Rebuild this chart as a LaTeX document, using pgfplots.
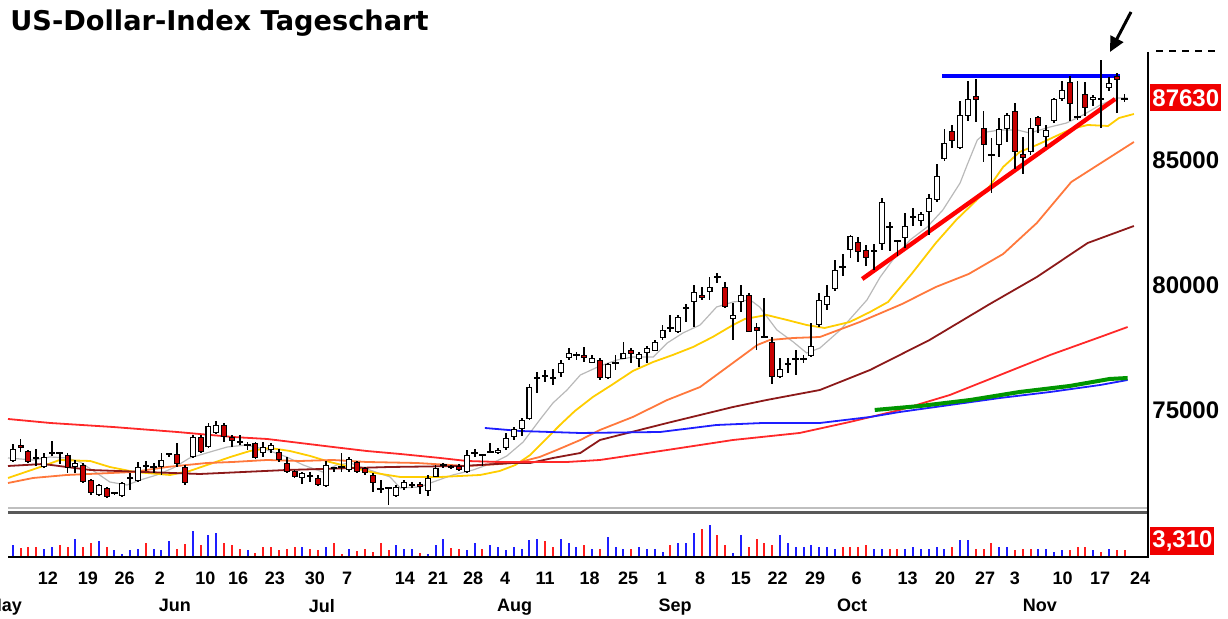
\documentclass[border=0pt]{standalone}
\usepackage{fontspec}
\setmainfont{Liberation Sans}
\newfontfamily\titlefont{DejaVu Sans}
\usepackage{pgfplots}
\pgfplotsset{compat=1.18}
\usepackage{pgfplotstable}
\usetikzlibrary{arrows.meta}

\definecolor{candlered}{RGB}{200,0,0}
\definecolor{magray}{RGB}{185,185,185}
\definecolor{mayellow}{RGB}{255,205,0}
\definecolor{maorange}{RGB}{255,120,60}
\definecolor{mamaroon}{RGB}{140,25,25}
\definecolor{mared}{RGB}{255,40,40}
\definecolor{mablue}{RGB}{30,30,255}
\definecolor{magreen}{RGB}{0,150,0}
\definecolor{volred}{RGB}{255,30,30}
\definecolor{volblue}{RGB}{30,30,255}
\definecolor{boxred}{RGB}{240,0,0}

% daily candles, index points (87.63 = 87630)
\pgfplotstableread{
i O H L C
0 72.96 73.64 72.92 73.44
1 73.60 73.84 73.32 73.48
2 73.36 73.40 72.88 72.92
3 73.08 73.44 72.76 73.08
4 72.72 73.28 72.68 73.12
5 73.28 73.76 73.16 73.28
6 73.28 73.32 72.84 73.28
7 73.20 73.28 72.48 72.68
8 72.72 73.00 72.48 72.88
9 72.80 72.88 72.08 72.12
10 72.20 72.24 71.60 71.68
11 71.60 72.04 71.56 72.00
12 71.88 71.92 71.48 71.52
13 71.68 71.72 71.60 71.68
14 71.56 72.12 71.52 72.08
15 72.28 72.48 71.80 72.28
16 72.16 72.92 72.12 72.72
17 72.76 72.96 72.56 72.76
18 72.72 72.88 72.48 72.72
19 72.72 73.28 72.40 73.00
20 73.24 73.28 73.12 73.24
21 73.24 73.68 72.72 72.84
22 72.72 72.80 72.00 72.08
23 73.12 74.00 73.08 73.92
24 73.92 74.00 73.28 73.32
25 73.52 74.48 73.48 74.36
26 74.08 74.56 74.04 74.40
27 74.40 74.48 73.72 73.92
28 73.92 74.00 73.52 73.76
29 73.72 74.00 73.60 73.72
30 73.60 73.72 73.40 73.60
31 73.68 73.72 73.04 73.08
32 73.28 73.72 73.12 73.52
33 73.40 73.68 73.28 73.60
34 73.32 73.44 72.92 73.00
35 72.88 73.12 72.48 72.52
36 72.56 72.60 72.28 72.32
37 72.28 72.52 72.04 72.48
38 72.36 72.52 72.12 72.36
39 72.28 72.40 71.96 72.00
40 71.96 72.96 71.92 72.80
41 72.68 72.72 72.52 72.68
42 72.72 73.28 72.52 72.72
43 72.60 73.12 72.52 73.04
44 72.92 72.96 72.48 72.52
45 72.68 72.72 72.40 72.48
46 72.40 72.48 71.72 72.08
47 71.84 72.20 71.68 71.84
48 71.88 71.88 71.20 71.88
49 71.56 72.00 71.52 71.92
50 71.88 72.20 71.80 72.12
51 72.00 72.12 71.88 72.00
52 72.04 72.12 71.64 71.92
53 71.76 72.40 71.56 72.28
54 72.32 72.80 72.32 72.68
55 72.80 72.88 72.68 72.80
56 72.68 72.80 72.64 72.76
57 72.76 72.84 72.56 72.60
58 72.52 73.40 72.48 73.20
59 73.28 73.44 73.12 73.28
60 73.20 73.20 72.76 73.20
61 73.32 73.68 73.28 73.32
62 73.28 73.48 73.24 73.40
63 73.48 74.08 73.40 73.88
64 73.92 74.32 73.80 74.24
65 74.24 74.68 73.96 74.60
66 74.64 76.04 74.60 75.92
67 76.28 76.52 75.68 76.28
68 76.36 76.60 76.12 76.36
69 76.28 76.64 76.00 76.28
70 76.48 77.00 76.32 76.88
71 77.08 77.48 77.00 77.28
72 77.20 77.32 77.00 77.20
73 77.20 77.52 76.92 77.08
74 76.88 77.20 76.88 77.08
75 77.00 77.08 76.20 76.28
76 76.28 76.88 76.24 76.84
77 76.88 77.20 76.60 76.88
78 77.04 77.72 77.04 77.28
79 77.40 77.48 76.88 77.24
80 77.04 77.32 76.72 77.24
81 77.28 77.56 76.88 77.48
82 77.36 77.80 77.36 77.72
83 77.88 78.40 77.80 78.20
84 78.28 78.80 78.12 78.28
85 78.12 78.80 78.08 78.72
86 79.08 79.24 78.52 79.08
87 79.32 80.00 78.32 79.72
88 79.60 79.92 79.40 79.48
89 79.72 80.32 79.40 79.92
90 80.32 80.48 80.08 80.32
91 79.92 80.12 79.08 79.12
92 78.64 79.28 77.80 78.80
93 79.32 80.00 78.92 79.60
94 79.60 79.68 78.12 78.12
95 78.32 78.48 77.40 78.16
96 77.92 79.48 77.88 77.92
97 77.72 77.92 76.04 76.32
98 76.32 77.08 76.28 76.64
99 76.84 77.08 76.48 76.84
100 77.04 77.40 76.40 77.04
101 77.04 77.20 76.88 77.04
102 77.16 78.48 77.12 77.56
103 78.40 79.68 78.32 79.40
104 79.20 80.00 79.00 79.56
105 79.84 81.00 79.76 80.60
106 80.72 81.24 80.36 80.72
107 81.40 82.00 81.08 81.96
108 81.72 81.92 80.92 81.32
109 81.40 81.60 80.76 81.08
110 81.36 81.64 80.60 81.36
111 81.64 83.48 81.40 83.32
112 82.32 82.52 81.36 82.32
113 81.76 81.80 81.16 81.76
114 81.88 82.88 81.48 82.36
115 82.72 83.08 82.36 82.72
116 82.56 82.92 82.36 82.84
117 82.92 83.64 82.00 83.48
118 83.40 84.84 83.32 84.36
119 85.04 86.24 84.96 85.68
120 86.16 86.40 85.48 85.76
121 85.48 87.36 85.44 86.80
122 86.76 88.16 86.56 87.44
123 87.56 88.24 86.52 87.40
124 86.28 86.96 84.92 85.60
125 85.20 85.88 83.68 85.20
126 85.60 86.68 85.12 86.24
127 86.24 86.88 85.72 86.80
128 86.96 87.28 84.64 85.32
129 85.24 85.92 84.44 85.08
130 85.32 86.68 85.20 86.28
131 86.72 86.76 86.08 86.36
132 85.92 86.40 85.52 86.20
133 86.56 87.48 86.48 87.44
134 87.44 88.16 87.36 87.80
135 88.12 88.36 86.56 87.24
136 86.72 88.16 86.60 86.72
137 87.64 88.12 86.76 87.08
138 87.40 87.60 87.16 87.52
139 87.44 89.00 86.28 87.44
140 87.88 88.32 87.76 88.08
141 88.36 88.48 86.88 88.20
142 87.44 87.64 87.32 87.44
}\candles

\pgfplotstableread{
i v
0 11.7
4 8.3
5 10.0
8 17.7
11 16.0
13 6.7
14 3.3
15 6.7
16 8.3
18 8.3
19 6.7
20 16.0
23 26.0
25 22.3
26 24.3
30 6.7
37 10.0
40 10.0
43 7.7
49 12.3
50 8.3
51 8.3
53 3.3
54 12.3
55 18.3
58 6.7
59 14.3
61 12.3
62 10.0
63 6.7
64 10.0
65 8.3
66 16.7
67 18.3
70 18.3
71 14.3
72 10.0
74 8.3
76 20.0
77 10.0
78 8.3
80 10.0
81 8.3
82 8.3
83 5.0
85 14.3
86 14.3
87 24.3
89 31.7
92 4.3
93 22.3
98 22.3
99 14.3
100 10.0
101 10.0
102 12.3
103 10.0
104 10.0
105 8.3
110 8.3
111 8.3
114 8.3
115 10.0
116 8.3
117 8.3
118 10.0
119 8.3
121 16.7
122 16.7
126 10.0
127 10.0
131 8.3
132 8.3
133 5.0
134 6.7
138 6.7
140 8.3
}\volblue

\pgfplotstableread{
i v
1 9.0
2 10.0
3 10.0
6 12.3
7 10.0
9 10.0
10 14.3
12 10.0
17 14.3
21 8.3
22 12.7
24 11.7
27 14.3
28 12.3
29 8.3
31 4.3
32 10.0
33 10.0
34 6.7
35 8.3
36 10.0
38 8.3
39 6.7
41 14.3
42 3.3
44 6.0
45 8.3
46 5.0
47 14.3
48 6.7
52 4.3
56 9.0
57 8.3
60 8.3
68 16.0
69 10.0
73 12.3
75 8.3
79 8.3
84 12.3
88 27.7
90 22.3
91 12.3
94 10.0
95 17.7
96 14.3
97 12.3
106 10.0
107 10.0
108 10.0
109 12.3
112 8.3
113 8.3
120 10.0
123 8.3
124 8.3
125 14.3
128 6.7
129 8.3
130 8.3
135 6.7
136 10.0
137 10.0
139 5.0
141 6.7
142 6.7
}\volred

\begin{document}
\begin{tikzpicture}
\path[use as bounding box] (0,0) rectangle (614pt,309.5pt);

% ---- price panel
\begin{axis}[
  at={(4pt,53.5pt)}, anchor=south west,
  scale only axis, width=570pt, height=231pt,
  xmin=-0.6, xmax=145, ymin=70.92, ymax=89.4,
  axis line style={draw=none},
  xtick=\empty,
  ytick={75,80,85}, yticklabels={75000,80000,85000},
  ytick pos=right, yticklabel pos=right,
  major tick length=0pt,
  yticklabel style={font=\bfseries\fontsize{12}{12}\selectfont, anchor=west, inner sep=0pt, xshift=2pt},
]
% moving averages
\addplot[magray, line width=0.6pt] coordinates {
(-0.6,73.08)(2.6,73.00)(4.8,73.12)(6.9,73.08)(8.6,72.92)(11.1,72.40)(12.4,72.12)
(14.6,72.00)(16.3,72.20)(18.4,72.40)(20.5,72.68)(22.6,73.08)(25.2,73.32)(27.4,73.52)
(29.9,73.60)(32.5,73.40)(35.0,73.12)(37.1,72.80)(39.6,72.52)(41.4,72.80)(43.1,72.88)
(45.6,72.60)(48.2,72.32)(49.5,71.88)(52.0,71.92)(53.7,72.12)(56.2,72.40)(58.8,72.60)
(61.3,72.88)(63.1,73.16)(65.2,73.72)(67.3,74.60)(69.0,75.28)(70.8,75.80)(72.5,76.40)
(75.0,76.76)(77.2,77.00)(79.2,77.12)(81.8,77.12)(83.6,77.68)(85.6,78.08)(87.8,78.40)
(89.9,79.12)(92.0,79.32)(94.2,79.40)(95.4,79.12)(97.6,78.20)(99.7,77.72)(101.4,77.28)
(103.1,77.48)(105.7,78.20)(109.1,79.40)(110.8,80.32)(112.4,81.00)(114.6,81.80)
(116.8,82.32)(118.8,83.00)(121.0,84.08)(121.9,84.80)(123.2,85.80)(124.4,86.12)
(126.1,86.20)(128.3,86.20)(129.9,86.08)(132.5,86.32)(134.6,86.48)(136.7,86.80)
(138.9,87.20)(141.0,87.48)(142.4,87.48)};
\addplot[mayellow, line width=0.9pt] coordinates {
(-0.6,72.28)(3.9,72.76)(6.0,73.00)(9.9,72.96)(12.4,72.72)(15.6,72.52)(20.1,72.40)
(22.6,72.56)(25.2,72.84)(27.8,73.12)(30.3,73.36)(32.9,73.48)(35.4,73.36)(38.0,73.16)
(40.5,72.92)(43.1,72.72)(46.3,72.48)(49.5,72.32)(54.6,72.32)(59.7,72.40)(62.2,72.56)
(64.2,72.80)(66.1,73.20)(68.0,73.80)(69.9,74.40)(71.8,74.96)(74.1,75.52)(76.7,76.04)
(79.2,76.56)(81.8,76.92)(84.3,77.20)(86.9,77.52)(89.4,77.92)(92.0,78.40)(93.5,78.64)
(96.3,78.80)(98.9,78.60)(101.4,78.40)(103.7,78.28)(106.9,78.52)(109.5,78.92)
(111.8,79.32)(114.8,80.44)(117.9,81.68)(120.5,82.60)(123.0,83.36)(124.8,83.96)
(126.5,84.72)(128.6,85.32)(130.8,85.60)(133.0,85.92)(135.2,86.24)(137.3,86.40)
(139.9,86.36)(141.3,86.68)(143.2,86.84)};
\addplot[maorange, line width=0.9pt] coordinates {
(-0.6,72.08)(2.6,72.28)(6.9,72.40)(15.4,72.52)(19.7,72.72)(24.8,72.88)(28.1,72.92)
(32.5,73.00)(36.7,72.96)(40.9,73.00)(45.2,72.92)(51.6,72.88)(58.0,72.76)(62.2,72.84)
(64.8,72.92)(67.3,73.12)(69.5,73.40)(72.5,73.80)(75.0,74.20)(79.2,74.72)(83.6,75.40)
(87.8,75.92)(92.5,77.00)(95.1,77.60)(96.7,77.80)(99.7,77.88)(103.1,77.92)(108.2,78.52)
(113.6,79.24)(117.9,79.92)(122.1,80.44)(126.5,81.24)(130.8,82.48)(135.2,84.12)
(138.6,84.80)(143.2,85.72)};
\addplot[mamaroon, line width=0.9pt] coordinates {
(-0.6,72.76)(3.9,72.84)(9.9,72.60)(23.9,72.44)(35.0,72.60)(48.2,72.72)(57.5,72.76)
(63.9,72.88)(66.1,72.88)(69.0,73.08)(72.5,73.28)(75.0,73.80)(83.6,74.48)(92.0,75.12)
(96.3,75.40)(103.1,75.80)(109.5,76.60)(117.1,77.80)(124.8,79.24)(130.8,80.32)
(137.3,81.68)(143.2,82.36)};
\addplot[mared, line width=0.9pt] coordinates {
(-0.6,74.64)(4.8,74.48)(12.8,74.32)(21.0,74.12)(28.1,73.92)(32.5,73.84)(36.7,73.68)
(40.9,73.52)(45.2,73.36)(49.5,73.24)(54.6,73.08)(58.0,72.96)(62.2,72.92)(70.8,72.92)
(75.0,73.00)(83.6,73.40)(92.0,73.80)(100.5,74.08)(106.9,74.52)(113.3,75.00)
(119.7,75.60)(126.1,76.40)(132.5,77.20)(138.9,77.92)(142.4,78.32)};
\addplot[mablue, line width=0.9pt] coordinates {
(60.3,74.28)(64.8,74.16)(72.5,74.08)(82.7,74.12)(89.9,74.40)(95.8,74.48)(103.1,74.48)
(109.5,74.72)(113.3,74.92)(119.7,75.20)(126.1,75.48)(132.5,75.72)(138.9,76.00)(142.4,76.20)};
\addplot[magreen, line width=2pt] coordinates {
(110.1,75.00)(115.9,75.16)(122.3,75.40)(128.6,75.72)(135.0,75.96)(140.1,76.24)(142.4,76.28)};
% trend lines
\addplot[red, line width=2.2pt] coordinates {(108.5,80.24)(140.8,87.44)};
\addplot[blue, line width=2.2pt] coordinates {(118.7,88.36)(141.4,88.36)};
% wicks
\addplot[draw=none, mark=none, error bars/.cd, y dir=both, y explicit, error mark=none,
  error bar style={draw=black, line width=0.9pt}]
  table[x=i, y=C, y error plus expr=\thisrow{H}-\thisrow{C}, y error minus expr=\thisrow{C}-\thisrow{L}] {\candles};
% body outlines
\addplot[draw=none, mark=none, restrict expr to domain={abs(\thisrow{C}-\thisrow{O})}{0.01:100},
  error bars/.cd, y dir=plus, y explicit, error mark=none, error bar style={draw=black, line width=3pt}]
  table[x=i, y expr={min(\thisrow{O},\thisrow{C})}, y error plus expr={abs(\thisrow{C}-\thisrow{O})}] {\candles};
% rising bodies
\addplot[draw=none, mark=none, restrict expr to domain={\thisrow{C}-\thisrow{O}}{0.081:100},
  error bars/.cd, y dir=plus, y explicit, error mark=none, error bar style={draw=white, line width=1.9pt}]
  table[x=i, y expr={\thisrow{O}+0.04}, y error plus expr={\thisrow{C}-\thisrow{O}-0.08}] {\candles};
% falling bodies
\addplot[draw=none, mark=none, restrict expr to domain={\thisrow{O}-\thisrow{C}}{0.081:100},
  error bars/.cd, y dir=plus, y explicit, error mark=none, error bar style={draw=candlered, line width=1.9pt}]
  table[x=i, y expr={\thisrow{C}+0.04}, y error plus expr={\thisrow{O}-\thisrow{C}-0.08}] {\candles};
% doji
\addplot[only marks, mark=-, mark size=1.6pt, mark options={draw=black, line width=0.9pt},
  restrict expr to domain={abs(\thisrow{C}-\thisrow{O})}{0:0.005}]
  table[x=i, y=C] {\candles};
\end{axis}

% ---- volume panel
\begin{axis}[
  at={(4pt,31pt)}, anchor=south west,
  scale only axis, width=570pt, height=21.5pt,
  xmin=-0.6, xmax=145, ymin=0, ymax=43,
  axis line style={draw=none},
  ytick=\empty, major tick length=0pt,
  xtick={4.5,9.6,14.3,18.8,24.6,28.8,33.5,38.6,42.7,50.1,54.3,58.8,62.9,68.0,73.7,78.6,82.9,87.8,93.0,97.7,102.5,107.8,114.3,119.1,124.2,128.0,134.1,138.9,144},
  xticklabels={12,19,26,2,10,16,23,30,7,14,21,28,4,11,18,25,1,8,15,22,29,6,13,20,27,3,10,17,24},
  xticklabel style={font=\bfseries\fontsize{9}{9}\selectfont, anchor=north, inner sep=0pt, yshift=-7.5pt},
  extra x ticks={20.7,39.5,64.1,84.6,107.2,131.2},
  extra x tick labels={Jun,Jul,Aug,Sep,Oct,Nov},
  extra x tick style={xticklabel style={yshift=-13.5pt}},
]
\addplot[ycomb, volred, line width=1pt] table[x=i, y=v] {\volred};
\addplot[ycomb, volblue, line width=1pt] table[x=i, y=v] {\volblue};
\end{axis}

% ---- frame, labels, arrow (pixel coordinates, y downwards)
\begin{scope}[x=0.5pt, y=-0.5pt, shift={(0pt,309.5pt)}]
  \node[anchor=base west, inner sep=0pt] at (10,31)
    {\titlefont\bfseries\fontsize{13.6}{15}\selectfont US-Dollar-Index Tageschart};
  \draw[line width=1pt, black!25] (8,508.5) -- (1148,508.5);
  \draw[line width=1.1pt, black!65] (8,512.5) -- (1148,512.5);
  \draw[line width=1pt] (8,557) -- (1149,557);
  \draw[line width=1pt] (1148,52) -- (1148,557);
  % bottom edge of the cut-off 90000 label
  \foreach \dx in {0,13,26,39,52} {
    \draw[line width=1pt] ({1156+\dx},51.5) -- ({1163+\dx},51.5);
  }
  \node[anchor=west, fill=boxred, text=white, inner xsep=1pt, inner ysep=0pt,
    minimum height=13.5pt, font=\bfseries\fontsize{12}{12}\selectfont] at (1150,98) {87630};
  \node[anchor=west, fill=boxred, text=white, inner xsep=1pt, inner ysep=0pt,
    minimum height=14pt, font=\bfseries\fontsize{12}{12}\selectfont] at (1150,541) {3,310};
  \node[anchor=north, inner sep=0pt, font=\bfseries\fontsize{9}{9}\selectfont] at (4.5,599) {May};
  \draw[line width=1.5pt, -{Triangle[length=7.5pt, width=7pt]}] (1131,12) -- (1110,52);
\end{scope}
\end{tikzpicture}
\end{document}
